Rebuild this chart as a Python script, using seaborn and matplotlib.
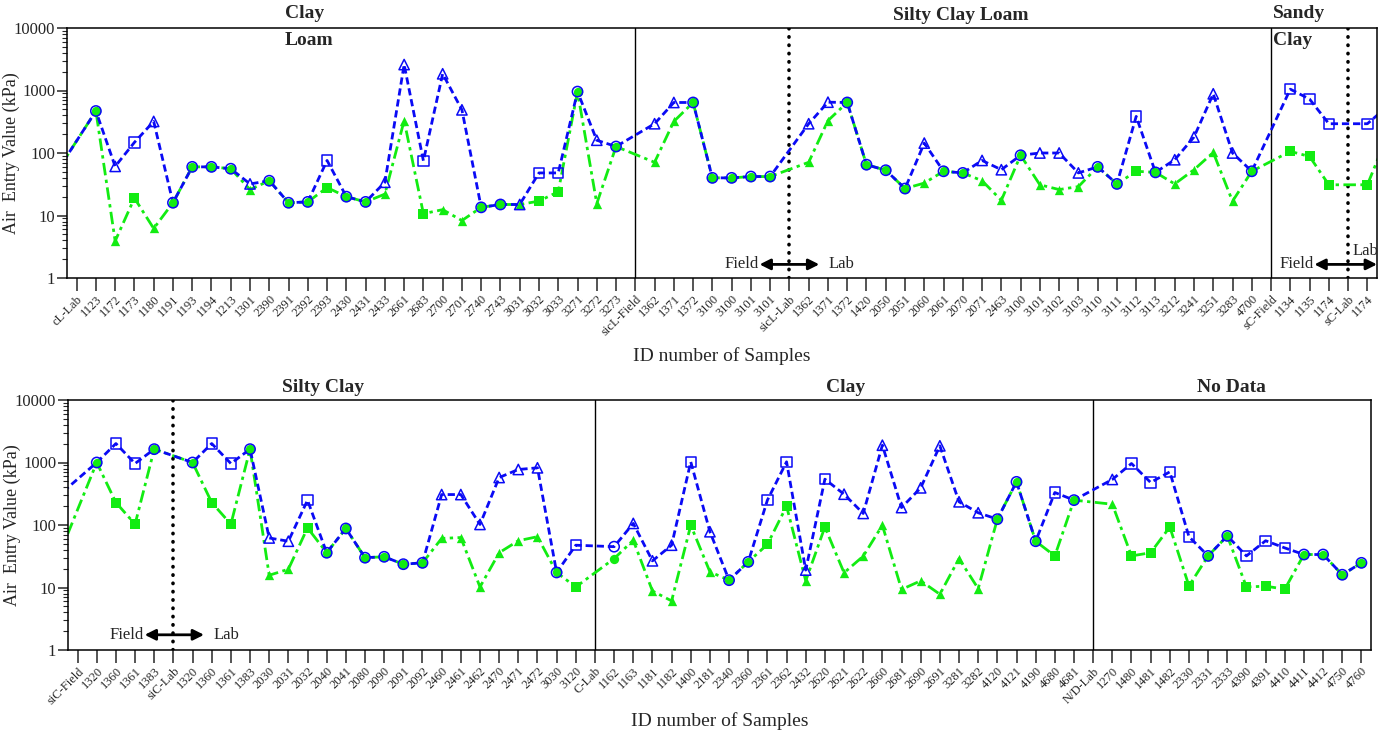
import numpy as np
import pandas as pd
import matplotlib
matplotlib.use("Agg")
import matplotlib.pyplot as plt
import matplotlib.transforms as mtransforms
from matplotlib.ticker import LogLocator, FixedLocator, FuncFormatter, NullFormatter
import seaborn as sns

# ---------------- data ----------------
top_labels = ["cL-Lab", "1123", "1172", "1173", "1180", "1191", "1193", "1194", "1213", "1301",
              "2390", "2391", "2392", "2393", "2430", "2431", "2433", "2661", "2683", "2700",
              "2701", "2740", "2743", "3031", "3032", "3033", "3271", "3272", "3273", "sicL-Field",
              "1362", "1371", "1372", "3100", "3100", "3101", "3101", "sicL-Lab", "1362", "1371",
              "1372", "1420", "2050", "2051", "2060", "2061", "2070", "2071", "2463", "3100",
              "3101", "3102", "3103", "3110", "3111", "3112", "3113", "3212", "3241", "3251",
              "3283", "4700", "sC-Field", "1134", "1135", "1174", "sC-Lab", "1174"]
top_blue = [None, 470, 61, 148, 320, 16, 60, 60, 56, 32,
            36, 16, 16.5, 76, 20, 16.5, 34, 2600, 75, 1850,
            490, 13.5, 15, 15, 48, 48, 960, 160, 127, None,
            294, 643, 643, 40, 40, 42, 42, None, 294, 650,
            643, 65, 53, 27, 144, 51, 48, 76, 54, 92,
            100, 100, 48, 60, 32, 385, 49, 78, 180, 885,
            100, 51, None, 1050, 728, 294, None, 294]
top_green = [None, 470, 3.9, 19, 6.2, 16, 60, 60, 56, 26,
             36, 16, 16.5, 28, 20, 16.5, 22, 330, 10.7, 12.4,
             8.3, 13.5, 15, 15, 17, 24, 960, 15.5, 127, None,
             71, 320, 643, 40, 40, 42, 42, None, 71, 330,
             643, 65, 53, 27, 33, 51, 48, 36, 17.5, 92,
             31, 26, 29, 60, 32, 51, 49, 32, 54, 102,
             16.9, 51, None, 106, 88, 31, None, 31]
top_marker = ["", "o", "^", "s", "^", "o", "o", "o", "o", "^",
              "o", "o", "o", "s", "o", "o", "^", "^", "s", "^",
              "^", "o", "o", "^", "s", "s", "o", "^", "o", "",
              "^", "^", "o", "o", "o", "o", "o", "", "^", "^",
              "o", "o", "o", "o", "^", "o", "o", "^", "^", "o",
              "^", "^", "^", "o", "o", "s", "o", "^", "^", "^",
              "^", "o", "", "s", "s", "s", "", "s"]

bottom_labels = ["siC-Field", "1320", "1360", "1361", "1383", "siC-Lab", "1320", "1360", "1361", "1383",
                 "2030", "2031", "2032", "2040", "2041", "2080", "2090", "2091", "2092", "2460",
                 "2461", "2462", "2470", "2471", "2472", "3030", "3120", "C-Lab", "1162", "1163",
                 "1181", "1182", "1400", "2181", "2340", "2360", "2361", "2362", "2432", "2620",
                 "2621", "2622", "2660", "2681", "2690", "2691", "3281", "3282", "4120", "4121",
                 "4190", "4680", "4681", "N/D-Lab", "1270", "1480", "1481", "1482", "2330", "2331",
                 "2333", "4390", "4391", "4410", "4411", "4412", "4750", "4760"]
bottom_blue = [None, 1000, 2010, 963, 1635, None, 1000, 2010, 963, 1635,
               62, 55, 249, 36, 88, 30, 31, 23.6, 24.8, 307,
               307, 102, 575, 773, 822, 17.4, 47.5, None, 45, 106,
               26.7, 47.5, 1025, 78, 13.1, 25.7, 250, 1025, 19, 541,
               311, 153, 1890, 190, 393, 1848, 235, 157, 124, 490,
               55, 331, 250, None, 535, 963, 479, 708, 65, 32,
               67, 32, 56, 43, 33.7, 33.7, 16, 24.8]
bottom_green = [None, 1000, 229, 103, 1635, None, 1000, 229, 103, 1635,
                15.7, 19.6, 90, 36, 88, 30, 31, 23.6, 24.8, 61,
                63, 10.2, 36, 56, 65, 17.4, 10.2, None, 29, 57,
                8.8, 6.1, 99, 17.8, 13.1, 25.7, 49, 200, 12.8, 93,
                17.2, 31.7, 99, 9.3, 12.8, 7.8, 29, 9.6, 124, 490,
                55, 32, 250, None, 215, 32, 36, 93, 10.6, 32,
                67, 10.2, 10.5, 9.4, 33.7, 33.7, 16, 24.8]
bottom_marker = ["", "o", "s", "s", "o", "", "o", "s", "s", "o",
                 "^", "^", "s", "o", "o", "o", "o", "o", "o", "^",
                 "^", "^", "^", "^", "^", "o", "s", "", "o", "^",
                 "^", "^", "s", "^", "o", "o", "s", "s", "^", "s",
                 "^", "^", "^", "^", "^", "^", "^", "^", "o", "o",
                 "o", "s", "o", "", "^", "s", "s", "s", "s", "o",
                 "o", "s", "s", "s", "o", "o", "o", "o"]

# value of the preceding sample (outside the shown range) that the curves come from
lead_in_blue = 52
lead_in_green = 52

top_groups = [("Clay\nLoam", 10.8, "left"), ("Silty Clay Loam", 45.9, "center"), ("Sandy\nClay", 62.1, "left")]
bottom_groups = [("Silty Clay", 12.8, "center"), ("Clay", 40.1, "center"), ("No Data", 60.2, "center")]

# ---------------- assemble ----------------
n_top = len(top_labels)
n_bot = len(bottom_labels)
pos = np.arange(-1, n_top + n_bot)
blue_all = [lead_in_blue] + top_blue + bottom_blue
green_all = [lead_in_green] + top_green + bottom_green
mark_all = [""] + top_marker + bottom_marker
df = pd.DataFrame({
    "pos": pos,
    "blue": pd.to_numeric(pd.Series(blue_all), errors="coerce"),
    "green": pd.to_numeric(pd.Series(green_all), errors="coerce"),
    "marker": mark_all,
})
line_df = df.dropna(subset=["blue"])

# ---------------- style ----------------
sns.set_style("ticks")
plt.rcParams["font.family"] = ["Liberation Serif", "DejaVu Serif"]
plt.rcParams["axes.linewidth"] = 1.1

BLUE = "#0A0AF5"
GREEN = "#12EC12"

fig = plt.figure(figsize=(13.89, 7.37), dpi=100)
W, H = 1389, 737
ax_top = fig.add_axes([67 / W, 1 - 278 / H, (1377 - 67) / W, 250 / H])
ax_bot = fig.add_axes([68 / W, 1 - 650 / H, (1371 - 68) / W, 250 / H])


def draw(ax, lo, hi, labels, xlabel_y):
    ax.set_yscale("log")
    sns.lineplot(data=line_df, x="pos", y="green", ax=ax, color=GREEN, lw=2.0,
                 linestyle=(0, (4.5, 1.6, 1.2, 1.6)), estimator=None, sort=True)
    sns.lineplot(data=line_df, x="pos", y="blue", ax=ax, color=BLUE, lw=2.0,
                 linestyle=(0, (2.6, 1.4)), estimator=None, sort=True)
    sub = df[(df.pos >= lo) & (df.pos <= hi) & (df.marker != "")]
    for m in ["o", "s", "^"]:
        s = sub[sub.marker == m]
        sns.scatterplot(data=s, x="pos", y="green", ax=ax, marker=m, color=GREEN,
                        s=45, linewidth=0, zorder=4)
        sns.scatterplot(data=s, x="pos", y="blue", ax=ax, marker=m, facecolor="none",
                        edgecolor=BLUE, s=55, linewidth=1.1, zorder=5)
    ax.set_xlim(lo - 0.5, hi + 0.5)
    ax.set_ylim(1, 10000)
    ax.xaxis.set_major_locator(FixedLocator(np.arange(lo, hi + 1)))
    ax.set_xticklabels(labels, rotation=45, ha="right", rotation_mode="anchor", fontsize=9)
    ax.yaxis.set_major_locator(FixedLocator([1, 10, 100, 1000, 10000]))
    ax.yaxis.set_major_formatter(FuncFormatter(lambda v, p: f"{int(round(v))}"))
    ax.yaxis.set_minor_locator(LogLocator(base=10, subs=np.arange(2, 10)))
    ax.yaxis.set_minor_formatter(NullFormatter())
    ax.tick_params(axis="x", direction="out", length=9, width=1.1, pad=2)
    ax.tick_params(axis="y", which="major", direction="out", length=7, width=1.1,
                   labelsize=12, pad=1.5)
    ax.tick_params(axis="y", which="minor", direction="out", length=3.5, width=0.8)
    for sp in ax.spines.values():
        sp.set_visible(True)
        sp.set_color("black")
    ax.set_ylabel("Air  Entry Value (kPa)", fontsize=13)
    ax.yaxis.label.set_va("center")
    ax.yaxis.set_label_coords(-0.0425, 0.5)
    ax.set_xlabel("ID number of Samples", fontsize=14)
    ax.xaxis.set_label_coords(0.5, xlabel_y)


draw(ax_top, 0, n_top - 1, top_labels, -0.275)
draw(ax_bot, n_top, n_top + n_bot - 1, bottom_labels, -0.250)

# separators
for ax, off, solid, dotted in [(ax_top, 0, ["sicL-Field", "sC-Field"], ["sicL-Lab", "sC-Lab"]),
                               (ax_bot, n_top, ["C-Lab", "N/D-Lab"], ["siC-Lab"])]:
    labs = top_labels if off == 0 else bottom_labels
    for name in solid:
        ax.axvline(off + labs.index(name), color="black", lw=1.0, zorder=1)
    for name in dotted:
        ax.axvline(off + labs.index(name), color="black", lw=2.6,
                   linestyle=(0, (0.1, 2.2)), dash_capstyle="round", zorder=1)

# Field / Lab arrows
def field_lab(ax, center, left, right, y, lab_xy=None):
    ax.annotate("", xy=(right, y), xytext=(left, y),
                arrowprops=dict(arrowstyle="<|-|>", color="black", lw=2.0,
                                mutation_scale=16, shrinkA=0, shrinkB=0), zorder=6)
    ax.text(left - 0.05, y, "Field", ha="right", va="center", fontsize=12)
    if lab_xy is None:
        ax.text(right + 0.5, y, "Lab", ha="left", va="center", fontsize=12)
    else:
        ax.text(lab_xy[0], lab_xy[1], "Lab", ha="left", va="center", fontsize=12)


c = top_labels.index("sicL-Lab")
field_lab(ax_top, c, c - 1.55, c + 1.55, 1.65)
c = top_labels.index("sC-Lab")
field_lab(ax_top, c, c - 1.75, 67.5, 1.65, lab_xy=(c + 0.25, 2.7))
c = n_top + bottom_labels.index("siC-Lab")
field_lab(ax_bot, c, c - 1.5, c + 1.6, 1.75)

# group titles
for ax, groups, off in [(ax_top, top_groups, 0), (ax_bot, bottom_groups, n_top)]:
    tr = mtransforms.blended_transform_factory(ax.transData, ax.transAxes)
    for text, x, ha in groups:
        if "\n" in text:
            a, b = text.split("\n")
            ax.text(off + x, 1.056, a, transform=tr, ha=ha, va="center",
                    fontsize=14, fontweight="bold")
            ax.text(off + x, 0.95, b, transform=tr, ha=ha, va="center",
                    fontsize=14, fontweight="bold")
        else:
            ax.text(off + x, 1.052, text, transform=tr, ha=ha, va="center",
                    fontsize=14, fontweight="bold")

fig.savefig("out.png", dpi=100)
